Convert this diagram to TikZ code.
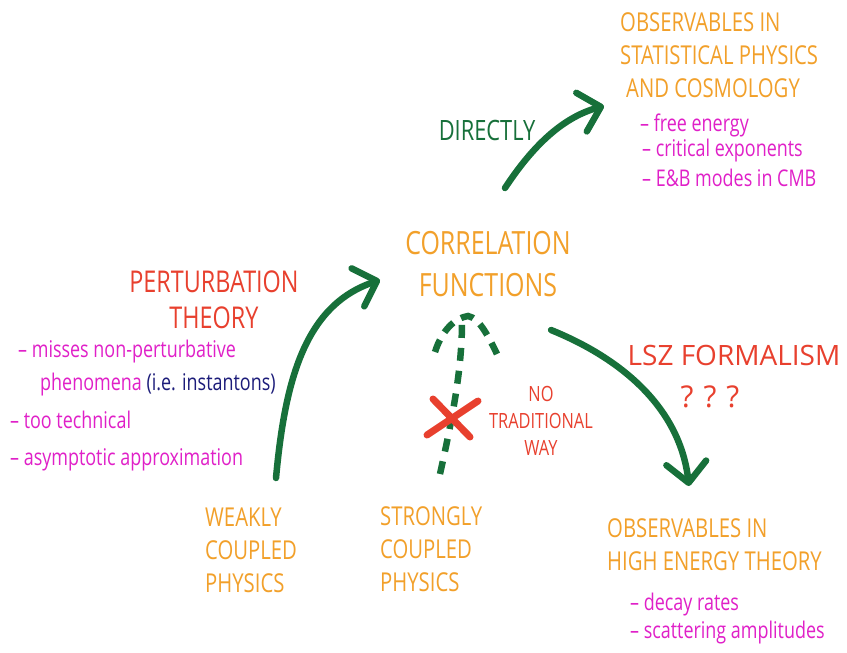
\documentclass[tikz,border=0pt]{standalone}
\usepackage{fontspec}
\setmainfont[FakeStretch=0.78]{Open Sans}
\newfontfamily\handwide{Open Sans}
\usetikzlibrary{arrows.meta}
\definecolor{horange}{HTML}{F2A02A}
\definecolor{hmag}{HTML}{E020C8}
\definecolor{hred}{HTML}{E8402E}
\definecolor{hgreen}{HTML}{17703A}
\definecolor{hnavy}{HTML}{1C1C7A}
\tikzset{
  caps/.style={text=horange, font=\fontsize{26}{33}\selectfont, inner sep=0pt, align=left},
  redcaps/.style={text=hred, font=\fontsize{30}{36}\selectfont, inner sep=0pt, align=center},
  smallred/.style={text=hred, font=\fontsize{21}{27}\selectfont, inner sep=0pt, align=center},
  notes/.style={text=hmag, font=\fontsize{23}{26}\selectfont, inner sep=0pt, align=left, anchor=west},
  garrow/.style={draw=hgreen, line width=6.5pt, line cap=round, line join=round,
    -{Straight Barb[length=20pt,width=40pt,line width=6.5pt,round]}},
}
\begin{document}
\begin{tikzpicture}[x=1pt,y=-1pt]
\useasboundingbox[fill=white] (0,0) rectangle (847,653);
% top right
\node[caps, anchor=north west] (obsstat) at (620,12) {OBSERVABLES IN\\STATISTICAL PHYSICS\\\hspace*{6pt}AND COSMOLOGY};
\node[notes] (n1) at (640,125) {– free energy};
\node[notes] (n2) at (642,151) {– critical exponents};
\node[notes] (n3) at (642,178) {– E\&B modes in CMB};
\node[text=hgreen, font=\fontsize{28}{30}\selectfont, inner sep=0pt] (directly) at (487,130) {DIRECTLY};
% center
\node[caps, align=center, font=\fontsize{32}{42}\selectfont] (corr) at (488,264) {CORRELATION\\FUNCTIONS};
% perturbation
\node[redcaps] (pert) at (214,300) {PERTURBATION\\THEORY};
\node[notes] (m1) at (18,352) {– misses non-perturbative};
\node[notes] (m2) at (40,385) {phenomena \textcolor{hnavy}{(i.e. instantons)}};
\node[notes] (m3) at (10,420) {– too technical};
\node[notes] (m4) at (10,460) {– asymptotic approximation};
% no traditional way
\node[smallred] (notrad) at (541,421) {NO\\TRADITIONAL\\WAY};
% LSZ
\node[text=hred, font=\handwide\fontsize{28}{30}\selectfont, inner sep=0pt] (lsz) at (734,355) {LSZ FORMALISM};
\node[text=hred, font=\handwide\fontsize{30}{30}\selectfont, inner sep=0pt] (qqq) at (710,397) {?\,\,?\,\,?};
% bottom
\node[caps, anchor=north west] (weak) at (205,508) {WEAKLY\\COUPLED\\PHYSICS};
\node[caps, anchor=north west] (strong) at (380,506) {STRONGLY\\COUPLED\\PHYSICS};
\node[caps, anchor=north west] (obshigh) at (607,518) {OBSERVABLES IN\\HIGH ENERGY THEORY};
\node[notes] (h1) at (630,605) {– decay rates};
\node[notes] (h2) at (630,633) {– scattering amplitudes};
% arrows
\coordinate (a1s) at (276,478);
\coordinate (a1e) at (380,280);
\draw[garrow] (a1s) .. controls (285,380) and (305,305) .. (a1e);
\coordinate (a2s) at (505,188);
\coordinate (a2e) at (604,106);
\draw[garrow] (a2s) .. controls (530,150) and (560,118) .. (a2e);
\coordinate (a3s) at (551,330);
\coordinate (a3e) at (689,486);
\draw[garrow] (a3s) .. controls (625,360) and (680,410) .. (a3e);
% dashed
\coordinate (ds) at (440,474);
\coordinate (de) at (462,322);
\coordinate (dl) at (435,352);
\coordinate (dr) at (497,354);
\coordinate (dtop) at (468,316);
\draw[draw=hgreen, line width=6.5pt, dash pattern=on 13pt off 10pt] (ds) .. controls (452,420) and (462,370) .. (de);
\draw[draw=hgreen, line width=6.5pt, dash pattern=on 13pt off 9pt] (dl) .. controls (442,330) and (455,318) .. (dtop) .. controls (480,318) and (490,340) .. (dr);
% red X
\coordinate (x1) at (433,399);
\coordinate (x2) at (470,437);
\coordinate (x3) at (478,401);
\coordinate (x4) at (427,435);
\draw[hred, line width=7pt, line cap=round] (x1) -- (x2) (x3) -- (x4);
\end{tikzpicture}
\end{document}
